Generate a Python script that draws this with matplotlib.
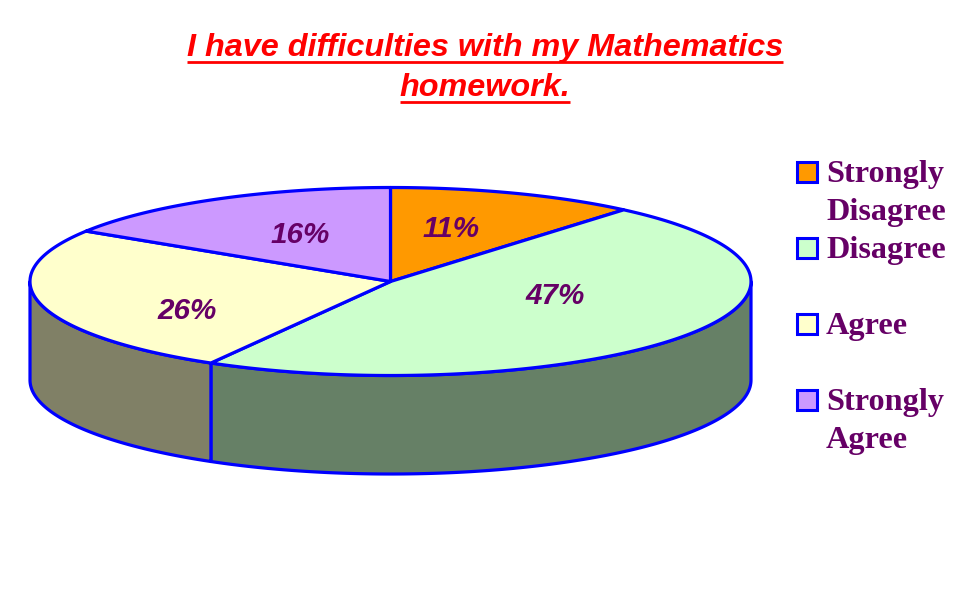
import numpy as np
import matplotlib
matplotlib.use("Agg")
import matplotlib.pyplot as plt
from matplotlib.patches import Polygon, Rectangle

categories = ["Strongly\nDisagree", "Disagree", "Agree", "Strongly\nAgree"]
values = [11.2, 47.1, 25.7, 16.0]
labels = ["11%", "47%", "26%", "16%"]
colors = ["#FF9900", "#CCFFCC", "#FFFFCC", "#CC99FF"]
side_colors = ["#805000", "#668066", "#808066", "#665080"]
title_lines = ["I have difficulties with my Mathematics", "homework."]
edge = "#0000FF"
text_col = "#660066"

W, H = 977, 600
fig = plt.figure(figsize=(W / 100, H / 100), dpi=100)
ax = fig.add_axes([0, 0, 1, 1])
ax.set_xlim(0, W)
ax.set_ylim(H, 0)
ax.axis("off")

cx, cy, rx, ry, depth = 390.5, 281.5, 360.5, 94, 98.5
lw = 2.3

def pt(a):
    return cx + rx * np.sin(a), cy - ry * np.cos(a)

cum = np.cumsum([0] + values) / sum(values) * 2 * np.pi

# side walls (visible lower half only)
for i in range(len(values)):
    a0 = max(cum[i], np.pi / 2)
    a1 = min(cum[i + 1], 3 * np.pi / 2)
    if a1 <= a0:
        continue
    t = np.linspace(a0, a1, 200)
    x, y = pt(t)
    xs = np.r_[x, x[::-1]]
    ys = np.r_[y, (y + depth)[::-1]]
    ax.add_patch(Polygon(np.c_[xs, ys], closed=True, fc=side_colors[i], ec=edge, lw=lw, joinstyle="round"))

# top wedges
for i in range(len(values)):
    t = np.linspace(cum[i], cum[i + 1], 200)
    x, y = pt(t)
    ax.add_patch(Polygon(np.c_[np.r_[cx, x], np.r_[cy, y]], closed=True, fc=colors[i], ec=edge, lw=lw, joinstyle="round"))

# percentage labels
lab_rx = [0.49, 0.56, 0.58, 0.52]
lab_ry = [0.60, 0.26, 1.30, 0.56]
for i, lab in enumerate(labels):
    mid = (cum[i] + cum[i + 1]) / 2
    x, y = pt(mid)
    ax.text(cx + (x - cx) * lab_rx[i], cy + (y - cy) * lab_ry[i], lab, ha="center", va="center",
            family="Liberation Sans", style="italic", weight="bold", fontsize=21.3, color=text_col)

# title with underline
r = fig.canvas.get_renderer()
for k, line in enumerate(title_lines):
    yb = 56 + 40 * k
    t = ax.text(485, yb, line, ha="center", va="baseline", family="Liberation Sans",
                style="italic", weight="bold", fontsize=23.3, color="#FF0000")
    bb = t.get_window_extent(r)
    ax.plot([bb.x0, bb.x1], [yb + 6, yb + 6], color="#FF0000", lw=2, solid_capstyle="butt")

# legend
legend_y = [171.5, 247.5, 323.5, 399.5]
for y, c, cat in zip(legend_y, colors, categories):
    ax.add_patch(Rectangle((796.5, y - 10), 20, 20, fc=c, ec=edge, lw=2.2))
    for j, part in enumerate(cat.split("\n")):
        ax.text(826, y + 10.5 + 38 * j, part, ha="left", va="baseline", family="Liberation Serif",
                weight="bold", fontsize=23.2, color=text_col)

fig.savefig("out.png", dpi=100, facecolor="white")
